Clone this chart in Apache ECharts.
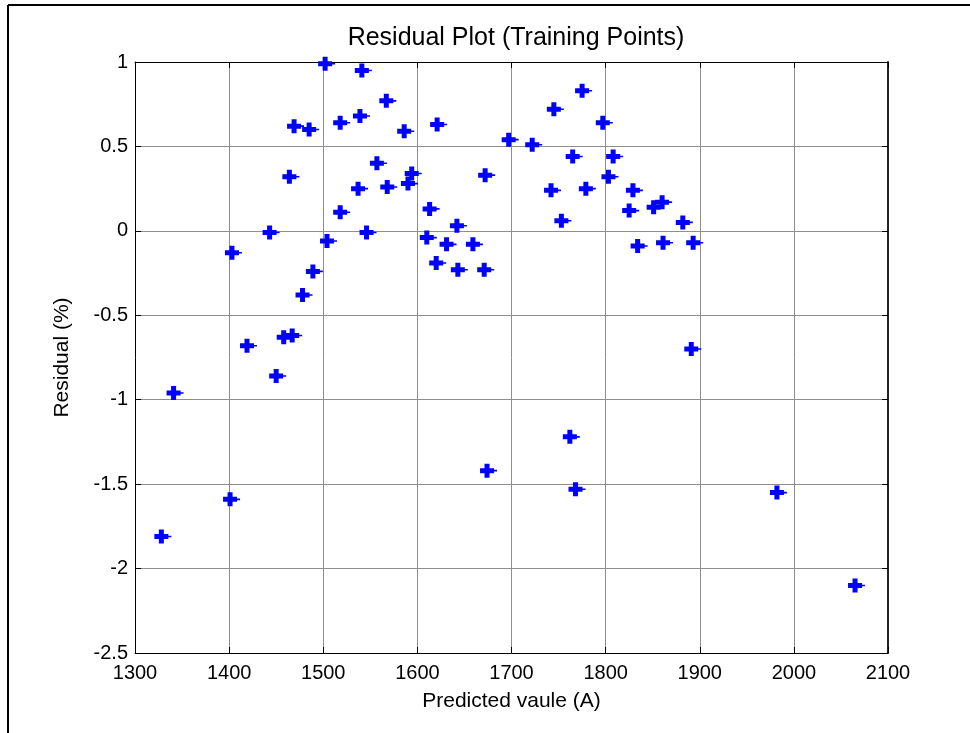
<!DOCTYPE html>
<html>
<head>
<meta charset="utf-8">
<script src="https://cdn.jsdelivr.net/npm/echarts@6/dist/echarts.min.js"></script>
<style>
html,body{margin:0;padding:0;background:#fff;}
#chart{width:970px;height:733px;}
</style>
</head>
<body>
<div id="chart"></div>
<script>
// Predicted value (A)
var predicted = [1328,1341,1401,1403,1419,1443,1450,1458,1464,1467,1469,1478,1485,1489,1502,1504,1518,1518,1537,1539,1541,1546,1557,1567,1568,1586,1590,1594,1610,1613,1620,1621,1631,1642,1643,1659,1671,1672,1674,1697,1722,1742,1745,1753,1762,1765,1768,1775,1779,1797,1803,1808,1825,1829,1834,1851,1860,1861,1882,1891,1893,1982,2065];
// Residual (%)
var residual = [-1.81,-0.96,-1.59,-0.13,-0.68,-0.01,-0.86,-0.63,0.32,-0.62,0.62,-0.38,0.60,-0.24,0.99,-0.06,0.11,0.64,0.25,0.68,0.95,-0.01,0.40,0.77,0.26,0.59,0.28,0.34,-0.04,0.13,-0.19,0.63,-0.08,0.03,-0.23,-0.08,-0.23,0.33,-1.42,0.54,0.51,0.24,0.72,0.06,-1.22,0.44,-1.53,0.83,0.25,0.64,0.32,0.44,0.12,0.24,-0.09,0.14,0.17,-0.07,0.05,-0.70,-0.07,-1.55,-2.10];
var xTicks = [1300,1400,1500,1600,1700,1800,1900,2000,2100];
var yTicks = [-2.5,-2,-1.5,-1,-0.5,0,0.5,1];

var FONT = "'Liberation Sans', Arial, sans-serif";
var points = predicted.map(function (x, i) { return [x, residual[i]]; });

var chart = echarts.init(document.getElementById('chart'), null, {renderer: 'canvas'});
var gridLine = {show: true, lineStyle: {color: '#8e8e8e', width: 1, type: 'solid'}};
var option = {
  animation: false,
  backgroundColor: '#ffffff',
  title: {
    text: 'Residual Plot (Training Points)',
    left: 511,
    textAlign: 'center',
    top: 21,
    textStyle: {fontFamily: FONT, fontSize: 25, fontWeight: 'normal', color: '#000'}
  },
  grid: {left: 135, top: 62, width: 753, height: 591, containLabel: false},
  xAxis: [{
    type: 'value',
    min: xTicks[0], max: xTicks[xTicks.length - 1], interval: 100,
    position: 'bottom',
    name: 'Predicted vaule (A)',
    nameLocation: 'middle', nameGap: 38,
    nameTextStyle: {fontFamily: FONT, fontSize: 21, color: '#000'},
    axisLine: {show: true, onZero: false, lineStyle: {color: '#000', width: 1}},
    axisTick: {show: true, inside: true, length: 6, lineStyle: {color: '#000'}},
    axisLabel: {fontFamily: FONT, fontSize: 20, color: '#000', margin: 10,
      formatter: function (v) { return String(v); }},
    splitLine: gridLine
  }, {
    type: 'value',
    min: xTicks[0], max: xTicks[xTicks.length - 1], interval: 100,
    position: 'top',
    axisLine: {show: true, onZero: false, lineStyle: {color: '#000', width: 1}},
    axisTick: {show: true, inside: true, length: 6, lineStyle: {color: '#000'}},
    axisLabel: {show: false},
    splitLine: {show: false}
  }],
  yAxis: [{
    type: 'value',
    min: yTicks[0], max: yTicks[yTicks.length - 1], interval: 0.5,
    position: 'left',
    name: 'Residual (%)',
    nameLocation: 'middle', nameGap: 62,
    nameTextStyle: {fontFamily: FONT, fontSize: 21, color: '#000'},
    axisLine: {show: true, onZero: false, lineStyle: {color: '#000', width: 1}},
    axisTick: {show: true, inside: true, length: 6, lineStyle: {color: '#000'}},
    axisLabel: {fontFamily: FONT, fontSize: 20, color: '#000', margin: 7,
      formatter: function (v) { return String(v); }},
    splitLine: gridLine
  }, {
    type: 'value',
    min: yTicks[0], max: yTicks[yTicks.length - 1], interval: 0.5,
    position: 'right',
    axisLine: {show: true, onZero: false, lineStyle: {color: '#222', width: 2}},
    axisTick: {show: true, inside: true, length: 6, lineStyle: {color: '#000'}},
    axisLabel: {show: false},
    splitLine: {show: false}
  }],
  graphic: [
    {type: 'line', shape: {x1: 8, y1: 5, x2: 8, y2: 733}, style: {stroke: '#000', lineWidth: 2}},
    {type: 'line', shape: {x1: 8, y1: 5, x2: 970, y2: 5}, style: {stroke: '#000', lineWidth: 2}}
  ],
  series: [{
    type: 'scatter',
    xAxisIndex: 0, yAxisIndex: 0,
    data: points,
    symbol: 'path://M4.5,0H9.5V4.5H14V6.2H17V7.8H14V9.5H9.5V14H4.5V9.5H0V4.5H4.5Z',
    symbolSize: [17, 14],
    symbolOffset: [1.5, 0],
    itemStyle: {color: '#0000ff', opacity: 1},
    emphasis: {disabled: true}
  }]
};
chart.setOption(option);
</script>
</body>
</html>
